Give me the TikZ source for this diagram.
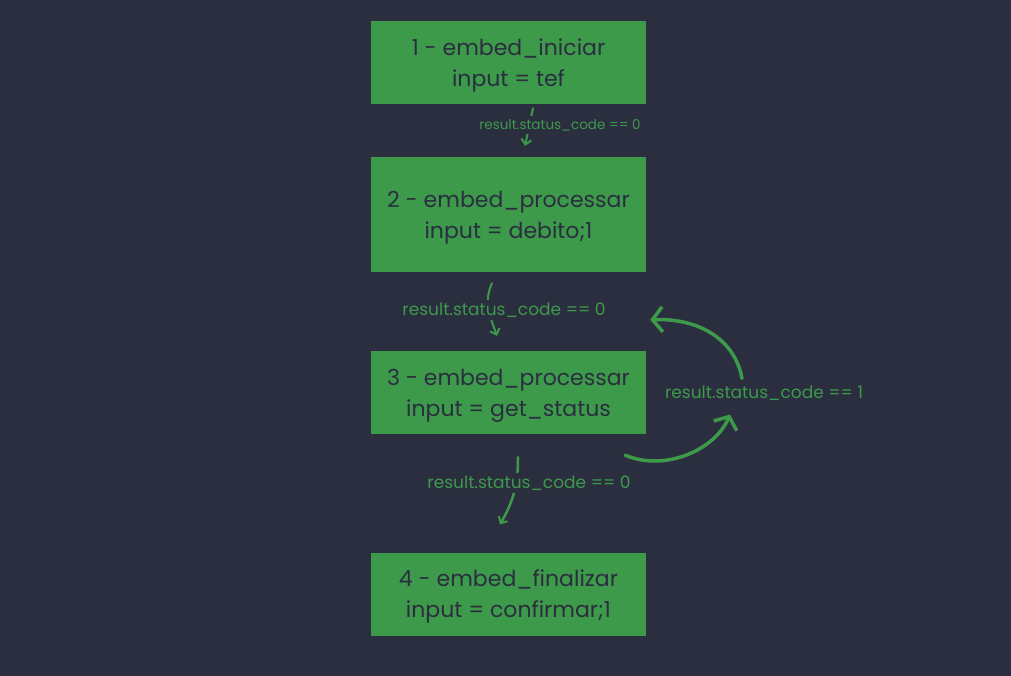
\documentclass[tikz,border=0pt]{standalone}
\usepackage{fontspec}
\setmainfont{Poppins}
\usetikzlibrary{arrows.meta,positioning}
\definecolor{bgdark}{HTML}{2B2E3F}
\definecolor{boxgreen}{HTML}{3D9A4B}
\tikzset{
  stepbox/.style={rectangle,fill=boxgreen,text=bgdark,minimum width=275pt,
    align=center,font=\fontsize{22}{31}\selectfont,inner sep=0pt,text depth=0pt},
  lbl/.style={text=boxgreen,fill=bgdark,inner sep=3pt,font=\fontsize{17}{20}\selectfont},
  smalllbl/.style={lbl,font=\fontsize{13.5}{16}\selectfont},
  thinarrow/.style={draw=boxgreen,line width=2pt,line cap=round,
    -{Straight Barb[length=5pt,width=10pt,line width=2pt]}},
  looparrow/.style={draw=boxgreen,line width=3.5pt,line cap=round,
    -{Straight Barb[length=10pt,width=25pt,line width=3.5pt]}}
}
\begin{document}
\begin{tikzpicture}[x=1pt,y=-1pt]
\fill[bgdark] (0,0) rectangle (1011,676);
\useasboundingbox (0,0) rectangle (1011,676);

% boxes
\node[stepbox,minimum height=83pt] (box1) at (508.5,62.5) {1 - embed\_iniciar\\input = tef};
\node[stepbox,minimum height=115pt] (box2) at (508.5,214.5) {2 - embed\_processar\\input = debito;1};
\node[stepbox,minimum height=83pt] (box3) at (508.5,392.5) {3 - embed\_processar\\input = get\_status};
\node[stepbox,minimum height=83pt] (box4) at (508.5,594) {4 - embed\_finalizar\\input = confirmar;1};

% 1 -> 2
\draw[thinarrow] ([xshift=24.5pt,yshift=-4pt]box1.south) -- ([xshift=16.5pt,yshift=11pt]box2.north);
\node[smalllbl] (c12) at (560,125) {result.status\_code == 0};

% 2 -> 3
\draw[thinarrow] ([xshift=-16.5pt,yshift=-11pt]box2.south) to[out=-115,in=110] ([xshift=-11.5pt,yshift=15pt]box3.north);
\node[lbl] (c23) at (504,310) {result.status\_code == 0};

% 3 -> 4
\draw[thinarrow,line width=2.5pt] ([xshift=9.5pt,yshift=-23pt]box3.south) to[out=-90,in=60] ([xshift=-8.5pt,yshift=28pt]box4.north);
\node[lbl] (c34) at (529,483) {result.status\_code == 0};

% loop on 3
\node[lbl] (c33) at (764,393) {result.status\_code == 1};
\coordinate (la) at ([xshift=-21pt,yshift=-21pt]box3.south east);
\coordinate (lb) at ([xshift=-34pt,yshift=-11pt]c33.south);
\coordinate (lc) at ([xshift=-22pt,yshift=4pt]c33.north);
\coordinate (ld) at ([xshift=4pt,yshift=31pt]box3.north east);
\draw[looparrow] (la) .. controls (665,472) and (715,450) .. (lb);
\draw[looparrow] (lc) .. controls (735,340) and (700,318) .. (ld);
\end{tikzpicture}
\end{document}
